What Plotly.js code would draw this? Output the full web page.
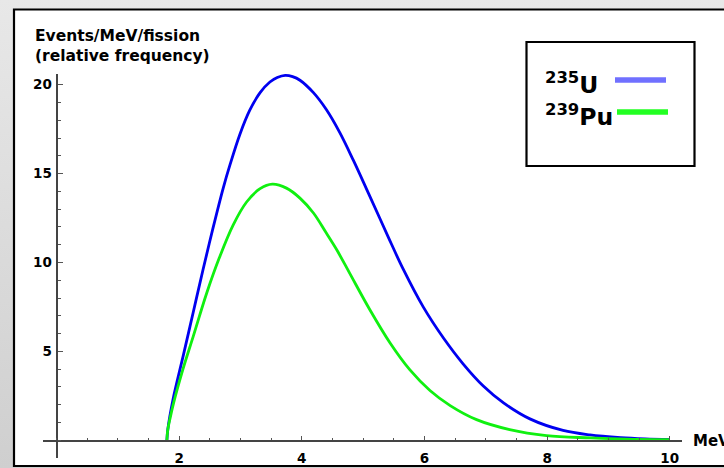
<!DOCTYPE html>
<html>
<head>
<meta charset="utf-8">
<script src="https://cdn.plot.ly/plotly-3.0.1.min.js"></script>
<style>
html,body{margin:0;padding:0;width:724px;height:468px;overflow:hidden;
background:linear-gradient(to bottom,#e8e8e8,#cfcfcf);}
#chart{width:724px;height:468px;}
</style>
</head>
<body>
<div id="chart"></div>
<script>
// ---- data ----
const u235Energy = [1.80, 1.815, 1.90, 2.07, 2.23, 2.39, 2.55, 2.72, 2.83, 2.99, 3.15, 3.32, 3.48, 3.60, 3.73, 3.85, 3.97, 4.19, 4.40, 4.62, 4.84, 5.06, 5.27, 5.46, 5.65, 5.98, 6.31, 6.63, 6.96, 7.29, 7.72, 8.26, 8.70, 9.20, 9.60, 10.00];
const u235Events = [0, 0.60, 2.29, 4.8, 7.2, 9.6, 11.9, 14.2, 15.5, 17.2, 18.55, 19.55, 20.15, 20.4, 20.52, 20.45, 20.25, 19.55, 18.6, 17.3, 15.75, 14.1, 12.5, 11.05, 9.65, 7.5, 5.75, 4.3, 3.05, 2.1, 1.2, 0.55, 0.30, 0.15, 0.08, 0.04];
const pu239Energy = [1.80, 1.815, 1.85, 1.91, 2.06, 2.23, 2.45, 2.66, 2.88, 3.10, 3.32, 3.52, 3.75, 3.97, 4.19, 4.40, 4.57, 4.78, 5.11, 5.44, 5.76, 6.09, 6.42, 6.85, 7.39, 7.99, 8.70, 9.30, 10.00];
const pu239Events = [0, 0.60, 1.2, 2.10, 3.97, 5.84, 8.28, 10.3, 12.1, 13.4, 14.15, 14.40, 14.18, 13.62, 12.78, 11.65, 10.71, 9.40, 7.34, 5.47, 3.97, 2.80, 1.95, 1.16, 0.60, 0.26, 0.13, 0.06, 0.03];
const xTickVals = [2, 4, 6, 8, 10];
const yTickVals = [5, 10, 15, 20];
const seriesNames = ["<sup>235</sup>U", "<sup>239</sup>Pu"];
const yTitle = "Events/MeV/fission<br>(relative frequency)";
const xTitle = "MeV";

// ---- layout helpers ----
const W = 724, H = 468;
const M = {l: 43, r: 42, t: 74, b: 10};
const xr = [-0.22, 10.2];
const yr = [-1, 20.6];
const px = x => (x - M.l) / (W - M.l - M.r);
const py = y => (H - M.b - y) / (H - M.t - M.b);
const FONT = "DejaVu Sans, Arial, sans-serif";

const traces = [
  {x: u235Energy, y: u235Events, mode: "lines", name: "U235",
   line: {color: "#0000f0", width: 2.8, shape: "spline", smoothing: 1.0}},
  {x: pu239Energy, y: pu239Events, mode: "lines", name: "Pu239",
   line: {color: "#10f010", width: 2.8, shape: "spline", smoothing: 1.0}}
];

const tickFont = {family: FONT, size: 13.5, color: "#000", weight: "bold"};

const layout = {
  width: W, height: H,
  margin: M,
  paper_bgcolor: "rgba(0,0,0,0)",
  plot_bgcolor: "rgba(0,0,0,0)",
  showlegend: false,
  hovermode: false,
  xaxis: {
    range: xr, anchor: "free", position: (0 - yr[0]) / (yr[1] - yr[0]),
    showgrid: false, zeroline: false,
    showline: true, linecolor: "#444", linewidth: 1.3,
    tickmode: "array", tickvals: xTickVals, ticktext: xTickVals.map(String),
    ticks: "inside", ticklen: 4, tickcolor: "#555", tickwidth: 1,
    ticklabelstandoff: 5,
    tickfont: tickFont,
    minor: {tickmode: "linear", tick0: 0, dtick: 0.5, ticks: "inside", ticklen: 2.5, tickcolor: "#555", tickwidth: 1, showgrid: false}
  },
  yaxis: {
    range: yr, anchor: "free", position: (0 - xr[0]) / (xr[1] - xr[0]),
    showgrid: false, zeroline: false,
    showline: true, linecolor: "#444", linewidth: 1.3,
    tickmode: "array", tickvals: yTickVals, ticktext: yTickVals.map(String),
    ticks: "inside", ticklen: 5, tickcolor: "#555", tickwidth: 1,
    ticklabelstandoff: 2,
    tickfont: tickFont,
    minor: {tickmode: "linear", tick0: 0, dtick: 1, ticks: "inside", ticklen: 3, tickcolor: "#555", tickwidth: 1, showgrid: false}
  },
  shapes: [
    {type: "rect", xref: "paper", yref: "paper", layer: "below",
     x0: px(14), x1: px(740), y0: py(466), y1: py(9.5),
     fillcolor: "#fff", line: {color: "#000", width: 2.2}},
    {type: "rect", xref: "paper", yref: "paper", layer: "above",
     x0: px(526.5), x1: px(694.5), y0: py(166), y1: py(42),
     fillcolor: "#fff", line: {color: "#000", width: 2.2}},
    {type: "line", xref: "paper", yref: "paper",
     x0: px(615), x1: px(666), y0: py(80), y1: py(80),
     line: {color: "#7070ff", width: 5.5}},
    {type: "line", xref: "paper", yref: "paper",
     x0: px(617), x1: px(668), y0: py(112), y1: py(112),
     line: {color: "#22ff22", width: 5.5}}
  ],
  annotations: [
    {xref: "paper", yref: "paper", x: px(33), y: py(25), xanchor: "left", yanchor: "top",
     text: yTitle, showarrow: false, align: "left",
     font: {family: FONT, size: 15.5, color: "#000", weight: "bold"}},
    {xref: "paper", yref: "paper", x: px(691), y: py(441), xanchor: "left", yanchor: "middle",
     text: xTitle, showarrow: false,
     font: {family: FONT, size: 15, color: "#000", weight: "bold"}},
    {xref: "paper", yref: "paper", x: px(543), y: py(83), xanchor: "left", yanchor: "middle",
     text: seriesNames[0], showarrow: false,
     font: {family: FONT, size: 23.5, color: "#000", weight: "bold"}},
    {xref: "paper", yref: "paper", x: px(543), y: py(115), xanchor: "left", yanchor: "middle",
     text: seriesNames[1], showarrow: false,
     font: {family: FONT, size: 23.5, color: "#000", weight: "bold"}}
  ]
};

Plotly.newPlot("chart", traces, layout, {displayModeBar: false, staticPlot: true});
</script>
</body>
</html>
